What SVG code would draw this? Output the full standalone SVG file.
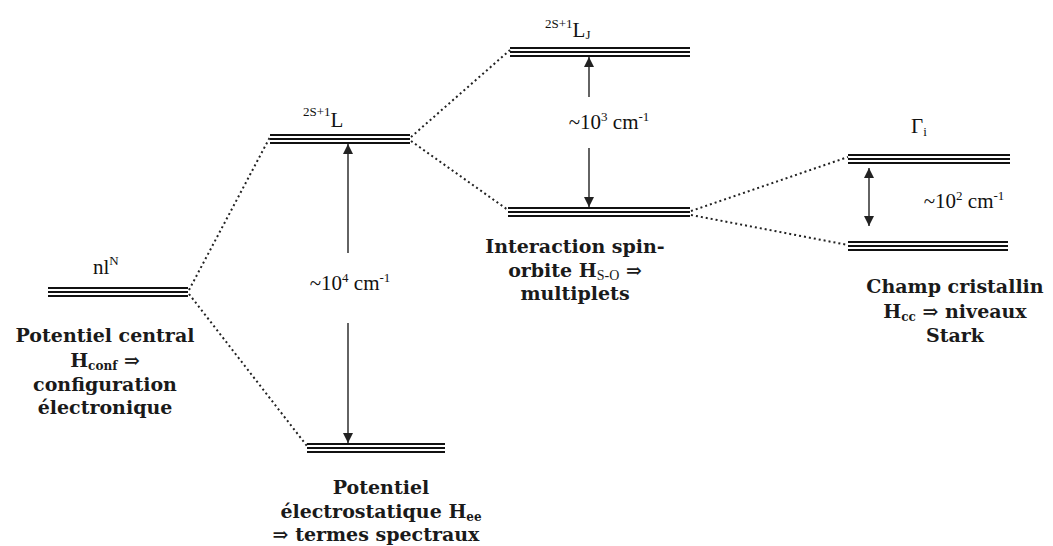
<svg xmlns="http://www.w3.org/2000/svg" width="1053" height="546" viewBox="0 0 1053 546">
<defs>
<style>
.lv line{stroke:#111;stroke-width:2}
.dot{stroke:#222;stroke-width:2;stroke-dasharray:2 3;fill:none}
.ar{stroke:#222;stroke-width:1.4;fill:none}
.lab{font-family:"Liberation Serif",serif;font-size:21px;fill:#111}
.sm{font-size:13px}
.b{font-family:"DejaVu Serif",serif;font-weight:bold;font-size:19px;fill:#1a1a1a;text-anchor:middle}
</style>
<marker id="ah" viewBox="0 0 10 10" refX="10" refY="5" markerWidth="10" markerHeight="10" markerUnits="userSpaceOnUse" orient="auto">
<path d="M0,0 L10,5 L0,10 z" fill="#222"/>
</marker>
<marker id="ahs" viewBox="0 0 10 10" refX="0" refY="5" markerWidth="10" markerHeight="10" markerUnits="userSpaceOnUse" orient="auto">
<path d="M10,0 L0,5 L10,10 z" fill="#222"/>
</marker>
</defs>
<rect width="1053" height="546" fill="#fff"/>

<g id="connectors">
<line class="dot" x1="189" y1="290" x2="270" y2="137"/>
<line class="dot" x1="189" y1="294" x2="307" y2="446"/>
<line class="dot" x1="411" y1="137" x2="510" y2="50"/>
<line class="dot" x1="411" y1="141" x2="508" y2="210"/>
<line class="dot" x1="691" y1="211" x2="848" y2="157"/>
<line class="dot" x1="691" y1="215" x2="848" y2="245"/>
<line class="ar" x1="348" y1="253" x2="348" y2="144" marker-end="url(#ah)"/>
<line class="ar" x1="348" y1="323" x2="348" y2="443" marker-end="url(#ah)"/>
<line class="ar" x1="589" y1="97" x2="589" y2="57" marker-end="url(#ah)"/>
<line class="ar" x1="589" y1="148" x2="589" y2="207" marker-end="url(#ah)"/>
<line class="ar" x1="869" y1="168" x2="869" y2="226" marker-start="url(#ahs)" marker-end="url(#ah)"/>
</g>

<g id="level-nlN" class="lv">
<line x1="48" y1="288" x2="188" y2="288"/>
<line x1="48" y1="292" x2="188" y2="292"/>
<line x1="48" y1="296" x2="188" y2="296"/>
<text class="lab" x="93" y="274">nl<tspan class="sm" dy="-9">N</tspan></text>
<text class="b" x="105" y="342">Potentiel central</text>
<text class="b" x="105" y="367">H<tspan font-size="12" dy="3">conf</tspan><tspan dy="-3"> ⇒</tspan></text>
<text class="b" x="105" y="391">configuration</text>
<text class="b" x="105" y="414">électronique</text>
</g>

<g id="level-L" class="lv">
<line x1="270" y1="135" x2="410" y2="135"/>
<line x1="270" y1="139" x2="410" y2="139"/>
<line x1="270" y1="143" x2="410" y2="143"/>
<text class="lab" x="303" y="127"><tspan class="sm" dy="-11">2S+1</tspan><tspan dy="11">L</tspan></text>
</g>

<g id="level-termes" class="lv">
<line x1="307" y1="444" x2="445" y2="444"/>
<line x1="307" y1="448" x2="445" y2="448"/>
<line x1="307" y1="452" x2="445" y2="452"/>
<text class="b" x="381" y="494">Potentiel</text>
<text class="b" x="381" y="518">électrostatique H<tspan font-size="12" dy="3">ee</tspan></text>
<text class="b" x="376" y="541">⇒ termes spectraux</text>
</g>

<g id="gap-1e4">
<text class="lab" x="350" y="290" text-anchor="middle">~10<tspan class="sm" dy="-8">4</tspan><tspan dy="8"> cm</tspan><tspan class="sm" dy="-8">-1</tspan></text>
</g>

<g id="level-LJ" class="lv">
<line x1="510" y1="48" x2="690" y2="48"/>
<line x1="510" y1="52" x2="690" y2="52"/>
<line x1="510" y1="56" x2="690" y2="56"/>
<text class="lab" x="545" y="37"><tspan class="sm" dy="-9">2S+1</tspan><tspan dy="9">L</tspan><tspan class="sm" dy="2">J</tspan></text>
</g>

<g id="gap-1e3">
<text class="lab" x="609" y="129" text-anchor="middle">~10<tspan class="sm" dy="-8">3</tspan><tspan dy="8"> cm</tspan><tspan class="sm" dy="-8">-1</tspan></text>
</g>

<g id="level-SO" class="lv">
<line x1="508" y1="208" x2="690" y2="208"/>
<line x1="508" y1="212" x2="690" y2="212"/>
<line x1="508" y1="216" x2="690" y2="216"/>
<text class="b" x="575" y="253">Interaction spin-</text>
<text class="b" x="575" y="277">orbite H<tspan font-size="14" font-weight="normal" font-family="Liberation Serif, serif" dy="3">S-O</tspan><tspan dy="-3"> ⇒</tspan></text>
<text class="b" x="575" y="300">multiplets</text>
</g>

<g id="level-Gamma" class="lv">
<line x1="848" y1="155" x2="1010" y2="155"/>
<line x1="848" y1="159" x2="1010" y2="159"/>
<line x1="848" y1="163" x2="1010" y2="163"/>
<line x1="848" y1="242" x2="1008" y2="242"/>
<line x1="848" y1="246" x2="1008" y2="246"/>
<line x1="848" y1="250" x2="1008" y2="250"/>
<text class="lab" x="911" y="133">Γ<tspan class="sm" dy="3">i</tspan></text>
<text class="lab" x="964" y="208" text-anchor="middle">~10<tspan class="sm" dy="-8">2</tspan><tspan dy="8"> cm</tspan><tspan class="sm" dy="-8">-1</tspan></text>
<text class="b" x="955" y="293">Champ cristallin</text>
<text class="b" x="955" y="318">H<tspan font-size="12" dy="3">cc</tspan><tspan dy="-3"> ⇒ niveaux</tspan></text>
<text class="b" x="955" y="342">Stark</text>
</g>
</svg>
